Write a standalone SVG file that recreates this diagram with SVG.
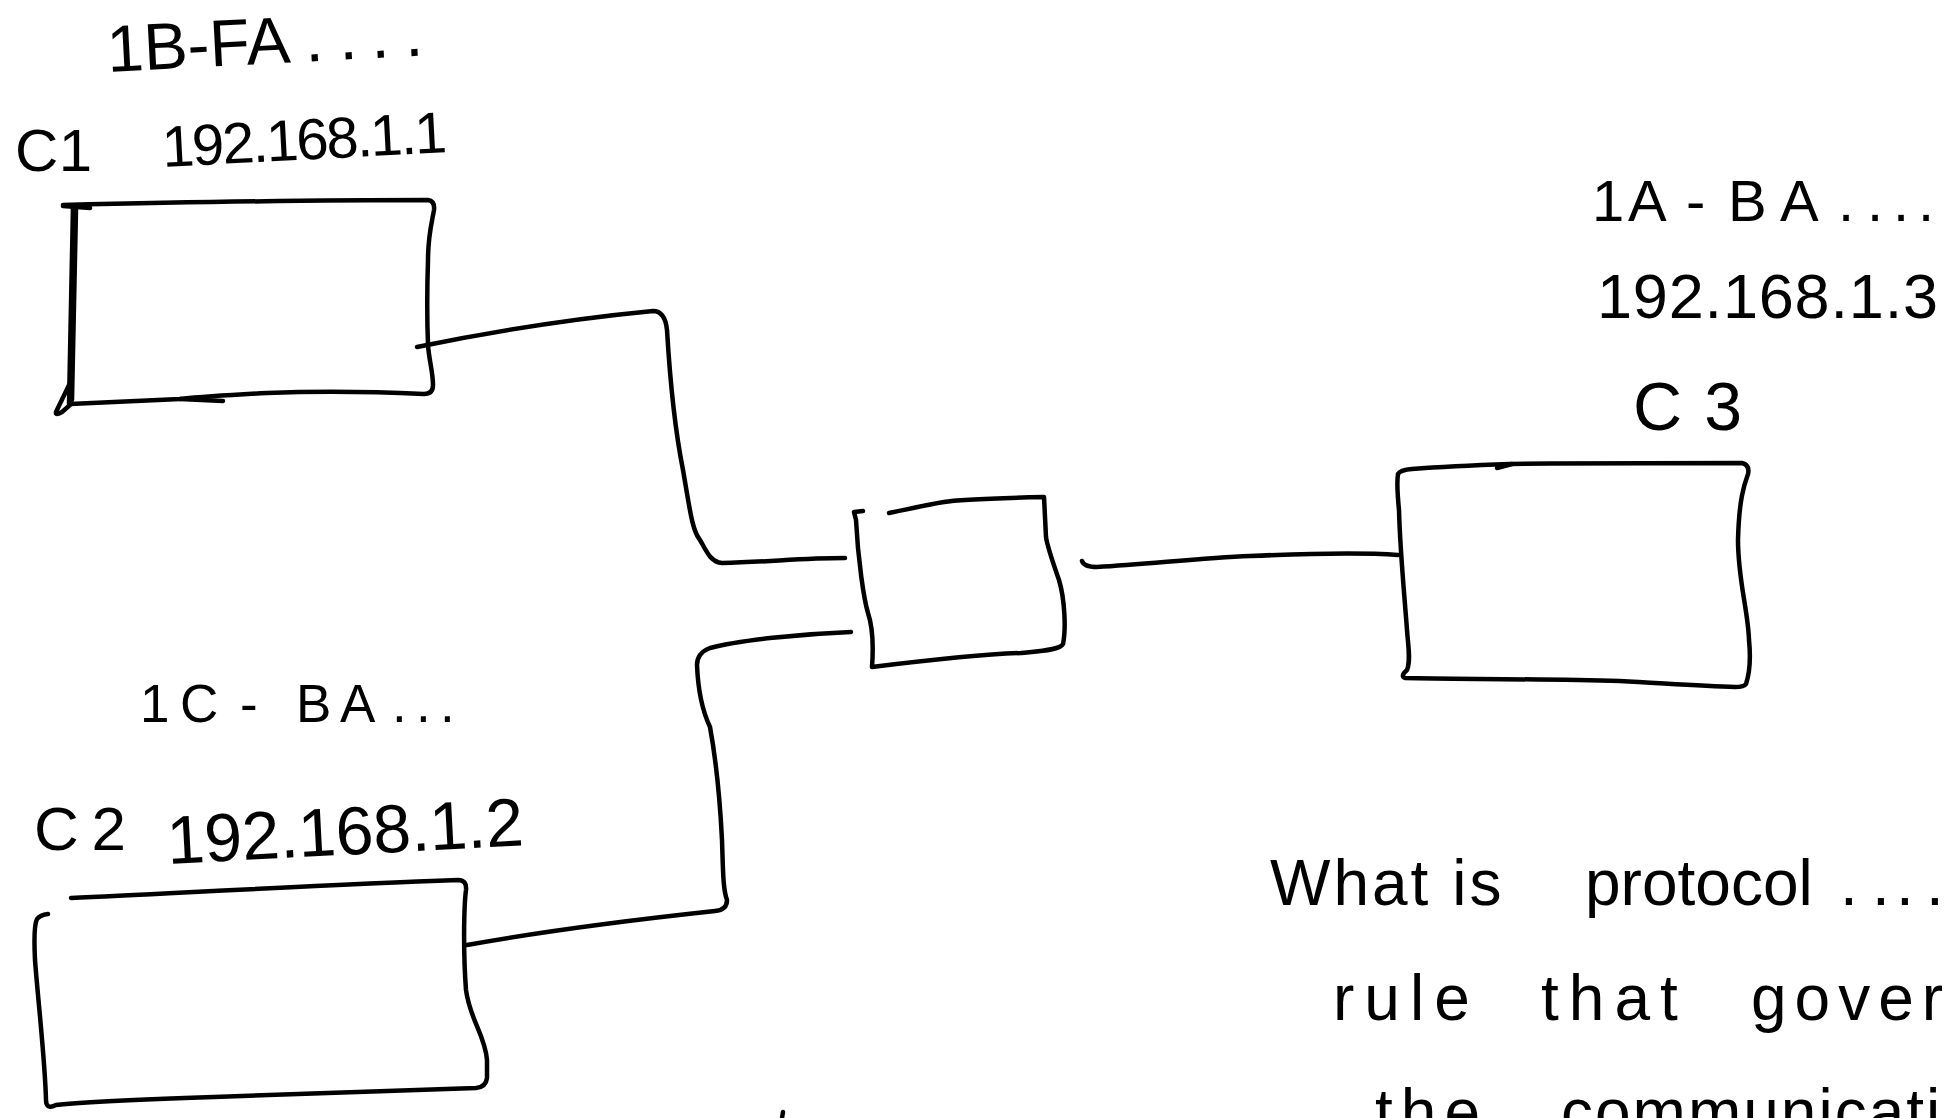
<svg xmlns="http://www.w3.org/2000/svg" width="1951" height="1118" viewBox="0 0 1951 1118">
  <style>
    .ink{fill:none;stroke:#000;stroke-width:4.5;stroke-linecap:round;stroke-linejoin:round}
    .hand{font-family:"Liberation Sans","DejaVu Sans",sans-serif;fill:#000}
  </style>
  <rect width="1951" height="1118" fill="#fff"/>

  <!-- connectors between the computers and the switch -->
  <g id="connectors">
    <path id="link-c1" class="ink" d="M417,347 C480,334 560,320 653,311 Q665,311 667,330 C670,380 675,430 683,470 C690,510 692,530 700,540 C706,550 710,562 722,563 C770,562 800,558 845,558"/>
    <path id="link-c2" class="ink" d="M851,632 C800,634 740,640 710,648 Q697,653 697,665 C698,690 702,710 710,727 C716,760 720,800 722,840 C723,870 723,890 727,900 Q727,910 715,911 C650,918 550,930 467,945"/>
    <path id="link-c3" class="ink" d="M1082,561 Q1084,567 1097,567 C1150,564 1200,558 1250,556 C1320,553 1370,553 1398,555"/>
  </g>

  <!-- computer C1 -->
  <g id="c1">
    <path class="ink" d="M63,205 C150,203 300,200 428,200 Q435,201 434,210 C432,222 428,235 428,260 C427,290 427,320 428,345 C429,360 433,372 433,385 Q433,394 424,394 C380,392 320,391 267,393 C230,395 200,397 180,399 L70,404"/>
    <path class="ink" d="M73,206 C72,260 70,330 69,404 M76,210 C75,260 73,330 72,400"/>
    <path class="ink" d="M70,383 L56,412 Q55,416 62,412 L70,405"/>
    <path class="ink" d="M63,206 L90,208 M180,399 L223,401"/>
    <text class="hand" x="108" y="72" font-size="66" transform="rotate(-3 108 72)">1B-FA<tspan x="306 340 372 406">....</tspan></text>
    <text class="hand" x="15" y="171" font-size="60" textLength="77" lengthAdjust="spacing">C1</text>
    <text class="hand" x="163" y="167" font-size="58" textLength="285" lengthAdjust="spacing" transform="rotate(-3 163 167)">192.168.1.1</text>
  </g>

  <!-- computer C2 -->
  <g id="c2">
    <path class="ink" d="M71,898 C180,893 320,885 458,880 Q467,880 466,890 C464,905 463,950 466,990 C470,1020 485,1035 487,1060 L487,1078 Q486,1087 476,1088 C400,1090 300,1094 214,1097 C150,1099 90,1101 56,1105 Q46,1110 46,1100 C45,1060 38,1000 35,960 C34,940 34,925 37,919 Q40,915 48,914"/>
    <text class="hand" x="140 180 240 296 340 392 416 440" y="722" font-size="53">1C-BA...</text>
    <text class="hand" x="34" y="850" font-size="62" textLength="92" lengthAdjust="spacing">C2</text>
    <text class="hand" x="168" y="864" font-size="68" textLength="357" lengthAdjust="spacing" transform="rotate(-3 168 864)">192.168.1.2</text>
  </g>

  <!-- switch -->
  <g id="switch">
    <path class="ink" d="M863,511 L854,512 L856,520 C858,560 864,600 868,613 C872,625 874,640 872,667 C930,660 990,654 1021,653 C1040,651 1060,650 1063,644 C1066,630 1065,600 1059,580 C1052,560 1047,545 1046,537 L1044,497 C1000,498 960,499 944,502 C920,506 900,511 889,513"/>
  </g>

  <!-- computer C3 -->
  <g id="c3">
    <path class="ink" d="M1398,474 Q1400,470 1412,469 C1450,466 1480,465 1510,464 C1600,463 1700,463 1742,463 Q1750,465 1748,474 C1744,485 1739,500 1738,540 C1738,580 1748,610 1749,640 C1751,660 1749,675 1746,684 Q1744,687 1735,687 C1700,686 1660,683 1620,681 C1540,679 1460,679 1405,678 Q1400,676 1407,670 C1411,660 1408,645 1407,630 C1404,590 1400,550 1399,510 C1397,490 1397,480 1398,474"/>
    <path class="ink" d="M1497,468 L1512,464"/>
    <text class="hand" x="1592 1628 1686 1728 1780 1838 1867 1893 1918" y="221" font-size="58">1A-BA....</text>
    <text class="hand" x="1597" y="318" font-size="63" textLength="341" lengthAdjust="spacing">192.168.1.3</text>
    <text class="hand" x="1633" y="430" font-size="68" textLength="109" lengthAdjust="spacing">C3</text>
  </g>

  <!-- note about protocols -->
  <g id="note">
    <text class="hand" y="905" font-size="64"><tspan x="1270" letter-spacing="3">What is </tspan><tspan x="1585">protocol</tspan><tspan x="1840 1872 1896 1926">....</tspan></text>
    <text class="hand" y="1020" font-size="64"><tspan x="1333" letter-spacing="10">rule </tspan><tspan x="1541" letter-spacing="10">that </tspan><tspan x="1751" letter-spacing="8">gover</tspan></text>
    <text class="hand" y="1134" font-size="64"><tspan x="1375" letter-spacing="8">the </tspan><tspan x="1561" letter-spacing="2">communicati</tspan></text>
  </g>

  <!-- stray pen mark at the lower edge -->
  <path class="ink" d="M783,1112 L782,1118"/>
</svg>
